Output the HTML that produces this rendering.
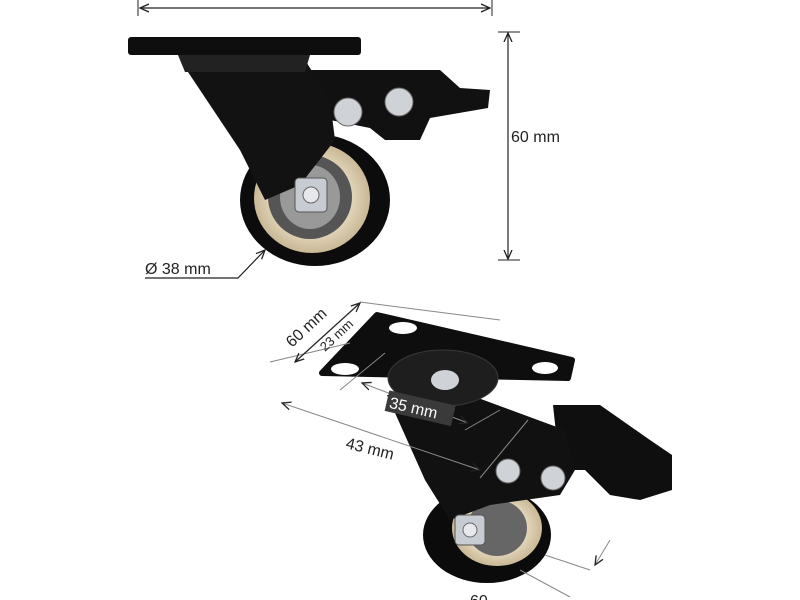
<!DOCTYPE html>
<html><head><style>
html,body{margin:0;padding:0;background:#fff;}
svg{display:block;}
text{font-family:"Liberation Sans",sans-serif;fill:#222;}
</style></head><body>
<svg width="800" height="600" viewBox="0 0 800 600" xmlns="http://www.w3.org/2000/svg">
<defs>
<marker id="ar" markerWidth="10" markerHeight="10" refX="9" refY="5" orient="auto-start-reverse" markerUnits="userSpaceOnUse"><path d="M0,1 L9,5 L0,9" fill="none" stroke="#222" stroke-width="1.3"/></marker>
<radialGradient id="cream" cx="50%" cy="50%" r="50%"><stop offset="60%" stop-color="#e9dcc3"/><stop offset="100%" stop-color="#c9b896"/></radialGradient>
</defs>
<line x1="140" y1="8" x2="490" y2="8" stroke="#222" stroke-width="1.2" marker-end="url(#ar)" marker-start="url(#ar)"/>
<line x1="138" y1="0" x2="138" y2="16" stroke="#222"/>
<line x1="492" y1="0" x2="492" y2="16" stroke="#222"/>
<line x1="508" y1="33" x2="508" y2="259" stroke="#222" stroke-width="1.2" marker-end="url(#ar)" marker-start="url(#ar)"/>
<line x1="498" y1="32" x2="520" y2="32" stroke="#222"/>
<line x1="498" y1="260" x2="520" y2="260" stroke="#222"/>
<text x="511" y="142" font-size="16">60 mm</text>
<path d="M310,70 L440,70 L460,88 L490,90 L488,108 L430,118 L420,140 L385,140 L370,128 L330,120 Z" fill="#111"/>
<circle cx="348" cy="112" r="14" fill="#cfd3d8" stroke="#666"/>
<circle cx="399" cy="102" r="14" fill="#cfd3d8" stroke="#666"/>
<ellipse cx="315" cy="200" rx="75" ry="66" fill="#0c0c0c"/>
<ellipse cx="312" cy="198" rx="58" ry="55" fill="url(#cream)"/>
<ellipse cx="310" cy="197" rx="42" ry="42" fill="#555"/>
<ellipse cx="310" cy="197" rx="30" ry="32" fill="#999"/>
<path d="M180,60 L305,60 L330,100 L335,140 L300,185 L265,200 L240,150 Z" fill="#121212"/>
<rect x="295" y="178" width="32" height="34" rx="4" fill="#c7ccd2" stroke="#555"/>
<circle cx="311" cy="195" r="8" fill="#e6e8eb" stroke="#666"/>
<path d="M178,55 L310,55 L305,72 L185,72 Z" fill="#222"/>
<rect x="128" y="37" width="233" height="18" rx="3" fill="#0e0e0e"/>
<text x="145" y="274" font-size="16">Ø 38 mm</text>
<polyline points="145,278 238,278 265,250" fill="none" stroke="#222" stroke-width="1.2" marker-end="url(#ar)"/>
<path d="M553,405 L600,405 L650,440 L672,455 L672,490 L640,500 L610,495 L585,470 L560,470 Z" fill="#0f0f0f"/>
<ellipse cx="487" cy="535" rx="64" ry="48" fill="#0b0b0b"/>
<ellipse cx="497" cy="528" rx="45" ry="38" fill="url(#cream)"/>
<ellipse cx="497" cy="528" rx="30" ry="28" fill="#666"/>
<path d="M387,395 L470,395 L565,430 L575,470 L560,495 L490,505 L450,520 L425,480 Z" fill="#111"/>
<path d="M377,315 L572,360 L568,378 L322,373 Z" fill="#0e0e0e" stroke="#0e0e0e" stroke-width="6" stroke-linejoin="round"/>
<ellipse cx="443" cy="378" rx="55" ry="28" fill="#1e1e1e" stroke="#3a3a3a"/>
<ellipse cx="445" cy="380" rx="14" ry="10" fill="#cfd3d8"/>
<ellipse cx="403" cy="328" rx="14" ry="6" fill="#fff"/>
<ellipse cx="345" cy="369" rx="14" ry="6" fill="#fff"/>
<ellipse cx="545" cy="368" rx="13" ry="6" fill="#fff"/>
<circle cx="508" cy="471" r="12" fill="#cfd3d8" stroke="#666"/>
<circle cx="553" cy="478" r="12" fill="#cfd3d8" stroke="#666"/>
<rect x="455" y="515" width="30" height="30" rx="4" fill="#c7ccd2" stroke="#555"/>
<circle cx="470" cy="530" r="7" fill="#e6e8eb" stroke="#666"/>
<g stroke="#888" stroke-width="1">
<line x1="360" y1="302" x2="500" y2="320"/>
<line x1="270" y1="362" x2="350" y2="343"/>
<line x1="340" y1="390" x2="385" y2="353"/>
<line x1="282" y1="403" x2="480" y2="470" marker-start="url(#ar)" marker-end="url(#ar)"/>
<line x1="362" y1="383" x2="468" y2="423" marker-start="url(#ar)" marker-end="url(#ar)"/>
<line x1="528" y1="420" x2="480" y2="478"/>
<line x1="465" y1="430" x2="500" y2="410"/>
<line x1="545" y1="555" x2="590" y2="570"/>
<line x1="520" y1="570" x2="570" y2="597"/>
<line x1="610" y1="540" x2="595" y2="565" marker-end="url(#ar)"/>
</g>
<line x1="360" y1="303" x2="295" y2="362" stroke="#222" stroke-width="1.2" marker-start="url(#ar)" marker-end="url(#ar)"/>
<text x="0" y="0" font-size="16" transform="translate(292,348) rotate(-43)">60 mm</text>
<text x="0" y="0" font-size="13" transform="translate(325,352) rotate(-43)">23 mm</text>
<g transform="translate(386,405) rotate(13)">
<rect x="0" y="-15" width="68" height="21" fill="#3a3a3a"/>
<text x="3" y="2" font-size="16" style="fill:#fff">35 mm</text>
</g>
<text x="0" y="0" font-size="16" transform="translate(345,448) rotate(14)">43 mm</text>
<text x="470" y="606" font-size="16">60</text>
</svg>
</body></html>
